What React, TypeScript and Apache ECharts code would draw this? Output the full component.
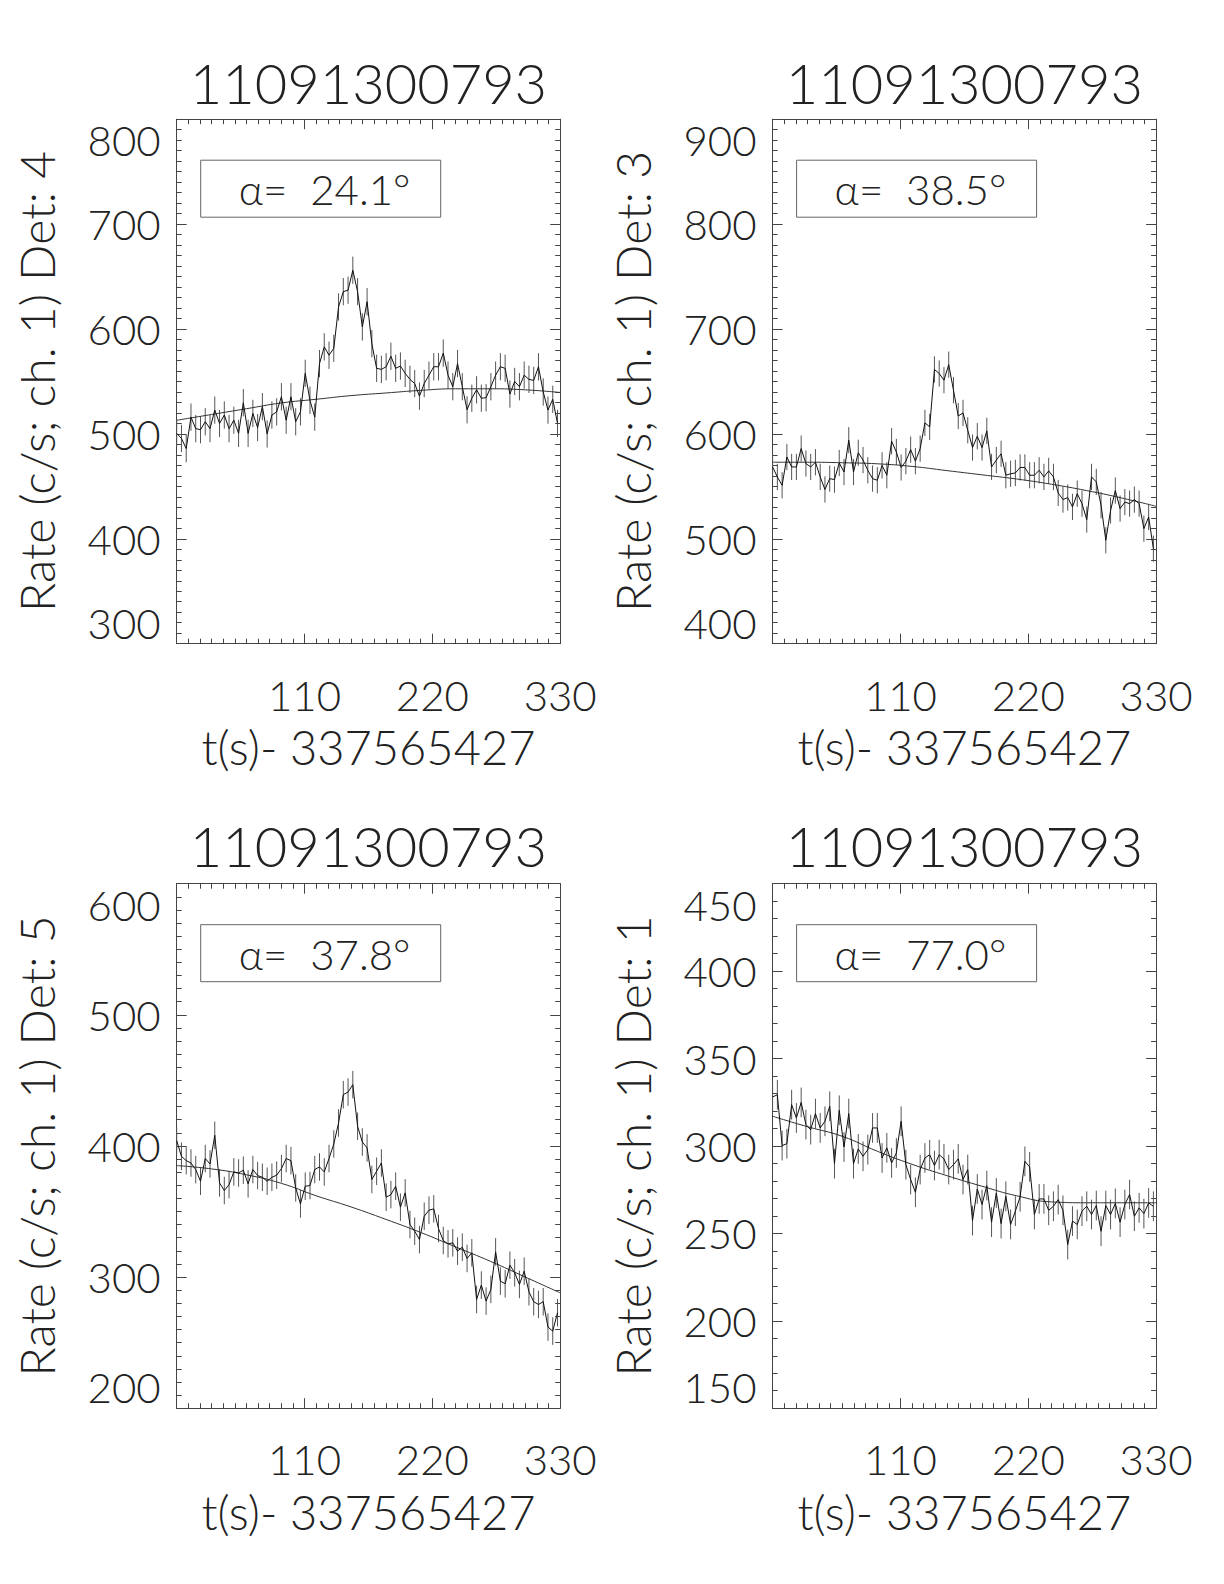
import React, { useEffect, useRef } from "react";
import * as echarts from "echarts";

// ---------------- data ----------------
const TITLE = "11091300793";
const X_NAME = "t(s)- 337565427";
const BIN_S = 4.096; // time bin width (s)
const X_TICKS = [0, 110, 220, 330];

const DETS = [4, 3, 5, 1];
const ALPHAS = [24.1, 38.5, 37.8, 77.0];
const Y_MIN = [300, 400, 200, 150];
const Y_MAX = [800, 900, 600, 450];
const Y_STEP = [100, 100, 100, 50];
const ERR_HALF = [13, 12.5, 10.5, 8.5];

const RATE_DET4 = [
  500.5, 495.7, 486, 516, 505, 504, 511.6, 505, 522.7, 510,
  518, 505, 513, 500.5, 529.7, 500.5, 519.5, 506, 526, 500,
  518, 521, 535.4, 513, 535.4, 511.6, 521, 557.7, 532, 516,
  567, 583, 575, 581.6, 621, 635.6, 637, 656, 635.6, 602,
  626, 586, 562.5, 561.5, 564, 574, 562.5, 564.7, 557.7, 552,
  548, 536, 548, 556, 564, 564, 577, 556, 545, 567,
  545, 523, 534, 542, 534, 534.5, 545, 556, 564, 562.5,
  538, 550, 545, 556, 552, 551, 564, 540, 522.7, 533,
  510,
];
const RATE_DET3 = [
  568.5, 559, 551, 578, 568.5, 568.5, 586, 571.7, 568.5, 573,
  559, 547, 557.4, 556.4, 572.3, 563.7, 594, 563.7, 582, 575,
  565.3, 557.4, 555.8, 570, 560.6, 593, 582.8, 568, 574, 585,
  574, 586, 610.5, 606.7, 661.4, 657.6, 651.2, 666, 641.7, 617,
  620, 603.5, 587, 597.8, 587, 602.9, 568.5, 575, 581, 560.6,
  562, 562.8, 568, 568, 560.6, 560.6, 565.3, 559, 564.7, 559,
  543.7, 537.4, 539.3, 530.4, 543, 533.5, 518.3, 559, 554.2, 532,
  498.6, 527, 546, 528.8, 535, 533.5, 537.4, 533.5, 509.7, 520.8,
  490.6,
];
const RATE_DET5 = [
  404.1, 392.1, 388.8, 387.0, 382.0, 373.1, 390.4, 386.3, 408.1, 371.8,
  366.0, 370.5, 380.2, 379.4, 381.5, 371.1, 382.0, 377.4, 376.1, 373.1,
  376.1, 377.7, 382.7, 390.4, 388.8, 368.0, 355.8, 369.3, 369.8, 382.0,
  384.0, 380.2, 390.4, 401.5, 417.5, 439.1, 441.1, 446.7, 415.0, 403.0,
  398.5, 374.4, 380.7, 387.0, 360.9, 362.9, 369.3, 353.3, 364.2, 340.1,
  335.0, 328.6, 346.4, 351.0, 352.0, 337.0, 327.9, 325.3, 326.1, 319.8,
  322.8, 314.2, 318.5, 282.9, 293.9, 281.7, 290.6, 319.2, 296.9, 294.9,
  309.1, 303.3, 294.4, 304.5, 288.8, 281.2, 279.1, 281.2, 261.9, 258.8,
  272.8,
];
const RATE_DET1 = [
  328.0, 329.3, 300.2, 301.3, 323.6, 316.0, 324.9, 312.2, 309.3, 318.5,
  310.3, 314.1, 322.7, 289.9, 320.4, 299.4, 318.5, 289.9, 298.3, 294.1,
  297.9, 310.3, 310.3, 293.1, 298.9, 290.3, 296.0, 314.1, 289.3, 280.8,
  273.5, 286.5, 293.1, 295.0, 288.8, 295.0, 292.6, 286.5, 289.3, 292.6,
  280.8, 286.5, 257.3, 275.4, 266.5, 277.3, 256.4, 273.1, 255.6, 271.2,
  255.1, 262.7, 270.9, 291.2, 288.0, 260.8, 269.7, 269.7, 263.2, 265.5,
  269.3, 263.2, 243.6, 257.0, 255.1, 262.7, 265.5, 260.8, 265.9, 251.2,
  265.9, 260.8, 267.1, 256.4, 266.5, 272.2, 259.8, 264.6, 261.3, 267.4,
  265.5,
];

// background fit curves, sampled at FIT_T
const FIT_T = [0, 30, 60, 90, 120, 150, 180, 210, 240, 270, 300, 330];
const FIT_DET4 = [513, 518.5, 524, 529.5, 533, 536.5, 539, 541.5, 543, 543, 542, 539.5];
const FIT_DET3 = [573, 573, 572.5, 571.5, 569, 565, 561, 557, 552, 546, 539, 531];
const FIT_DET5 = [385, 382.5, 378, 371.5, 362, 353.5, 344, 334, 323, 312, 300, 288];
const FIT_DET1 = [317, 311, 305.5, 297, 289.5, 283, 277, 271.5, 268, 267.5, 267.5, 267.5];

const RATES = [RATE_DET4, RATE_DET3, RATE_DET5, RATE_DET1];
const FITS = [FIT_DET4, FIT_DET3, FIT_DET5, FIT_DET1];

// ---------------- layout / style ----------------
const FONT = "Lato, 'DejaVu Sans', sans-serif";
const FW = 300;
const TXT = "#222";
const AX = "#444";
const GRID_LEFT = [176.7, 772.6];
const GRID_TOP = [119.2, 883.7];
const GRID_W = 383.5;
const GRID_H = 524.5;

export default function App() {
  const ref = useRef<HTMLDivElement>(null);

  useEffect(() => {
    if (!ref.current) return;
    const chart = echarts.init(ref.current, null, { renderer: "svg" });

    const grids: any[] = [];
    const xAxes: any[] = [];
    const yAxes: any[] = [];
    const series: any[] = [];
    const graphics: any[] = [];

    for (let i = 0; i < 4; i++) {
      const r = Math.floor(i / 2);
      const c = i % 2;
      const left = GRID_LEFT[c];
      const top = GRID_TOP[r];
      grids.push({ left, top, width: GRID_W, height: GRID_H, containLabel: false });

      const commonLine = { show: true, onZero: false, lineStyle: { color: AX, width: 1 } };
      const tick = { show: true, inside: true, length: 10, lineStyle: { color: AX, width: 1 } };
      const labelStyle = { color: TXT, fontFamily: FONT, fontWeight: FW, fontSize: 42 };

      const xBase = {
        gridIndex: i,
        type: "value",
        min: X_TICKS[0],
        max: X_TICKS[X_TICKS.length - 1],
        interval: X_TICKS[1] - X_TICKS[0],
        axisLine: commonLine,
        axisTick: tick,
        minorTick: { show: true, splitNumber: 11, length: 5, lineStyle: { color: AX, width: 1 } },
        splitLine: { show: false },
        minorSplitLine: { show: false },
      };
      xAxes.push({
        ...xBase,
        position: "bottom",
        axisLabel: {
          ...labelStyle,
          margin: 30,
          formatter: (v: number) => (v === X_TICKS[0] ? "" : String(v)),
        },
        name: X_NAME,
        nameLocation: "middle",
        nameGap: 80,
        nameTextStyle: { ...labelStyle, fontSize: 47 },
      });
      xAxes.push({ ...xBase, position: "top", axisLabel: { show: false } });

      const yBase = {
        gridIndex: i,
        type: "value",
        min: Y_MIN[i],
        max: Y_MAX[i],
        interval: Y_STEP[i],
        axisLine: commonLine,
        axisTick: tick,
        minorTick: { show: true, splitNumber: Y_STEP[i] / 10, length: 5, lineStyle: { color: AX, width: 1 } },
        splitLine: { show: false },
        minorSplitLine: { show: false },
      };
      yAxes.push({
        ...yBase,
        position: "left",
        axisLabel: {
          ...labelStyle,
          margin: 16,
          verticalAlignMinLabel: "bottom",
          verticalAlignMaxLabel: "top",
        },
        name: `Rate (c/s; ch. 1) Det: ${DETS[i]}`,
        nameLocation: "middle",
        nameRotate: 90,
        nameGap: 116,
        nameTextStyle: { ...labelStyle, fontSize: 48 },
      });
      yAxes.push({ ...yBase, position: "right", axisLabel: { show: false } });

      const rates = RATES[i];
      const err = ERR_HALF[i];
      const pts = rates.map((v, k) => [k * BIN_S, v]);

      series.push({
        type: "custom",
        xAxisIndex: 2 * i,
        yAxisIndex: 2 * i,
        data: rates.map((v, k) => [k * BIN_S, v, err]),
        encode: { x: 0, y: 1 },
        z: 1,
        silent: true,
        renderItem: (_p: any, api: any) => {
          const x = api.value(0);
          const y = api.value(1);
          const e = api.value(2);
          const a = api.coord([x, y - e]);
          const b = api.coord([x, y + e]);
          return {
            type: "line",
            shape: { x1: a[0], y1: a[1], x2: b[0], y2: b[1] },
            style: { stroke: "#555", lineWidth: 1 },
          };
        },
      });
      series.push({
        type: "line",
        xAxisIndex: 2 * i,
        yAxisIndex: 2 * i,
        data: pts,
        showSymbol: false,
        z: 3,
        lineStyle: { color: "#111", width: 1 },
        silent: true,
      });
      series.push({
        type: "line",
        xAxisIndex: 2 * i,
        yAxisIndex: 2 * i,
        data: FIT_T.map((t, k) => [t, FITS[i][k]]),
        showSymbol: false,
        smooth: true,
        z: 2,
        lineStyle: { color: "#333", width: 1 },
        silent: true,
      });

      // title
      graphics.push({
        type: "text",
        x: left + GRID_W / 2,
        y: r === 0 ? 82 : 845,
        style: {
          text: TITLE,
          fontSize: 56,
          fontFamily: FONT,
          fontWeight: FW,
          fill: TXT,
          textAlign: "center",
          textVerticalAlign: "middle",
        },
      });
      // legend box
      graphics.push({
        type: "rect",
        shape: { x: left + 24, y: top + 41, width: 240, height: 57 },
        style: { fill: "none", stroke: "#666", lineWidth: 1 },
      });
      graphics.push({
        type: "text",
        x: left + 62,
        y: top + 70,
        style: {
          text: `α=  ${ALPHAS[i].toFixed(1)}°`,
          fontSize: 42,
          fontFamily: FONT,
          fontWeight: FW,
          fill: TXT,
          textAlign: "left",
          textVerticalAlign: "middle",
        },
      });
    }

    chart.setOption({
      animation: false,
      backgroundColor: "#fff",
      grid: grids,
      xAxis: xAxes,
      yAxis: yAxes,
      series,
      graphic: graphics,
    });

    return () => chart.dispose();
  }, []);

  return (
    <div
      ref={ref}
      style={{ position: "absolute", left: 0, top: 0, width: 1224, height: 1584, background: "#fff" }}
    />
  );
}
